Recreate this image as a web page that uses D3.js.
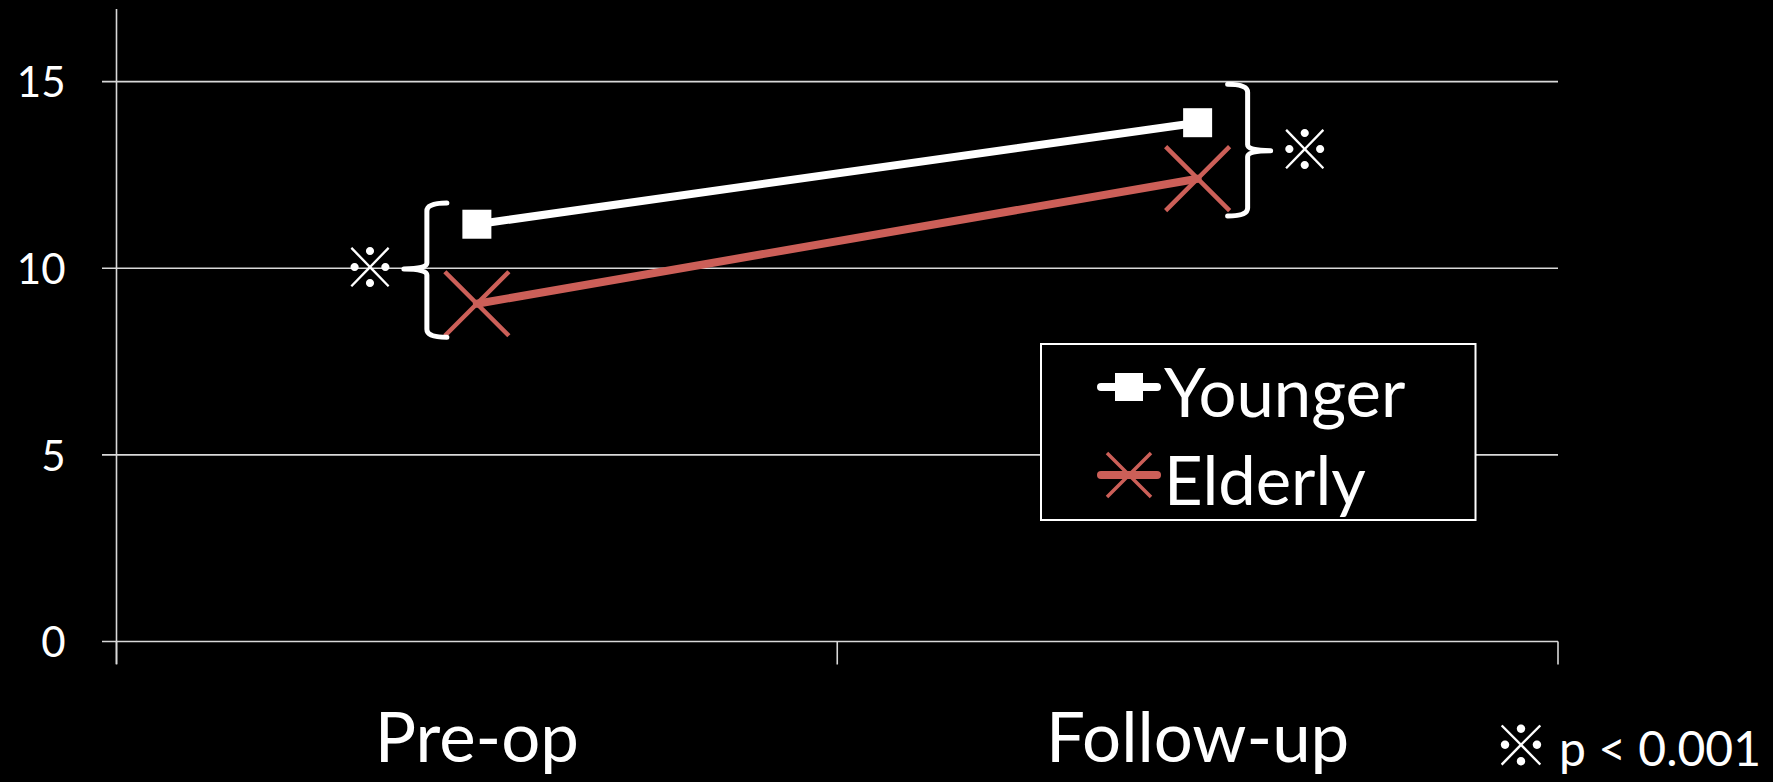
<!DOCTYPE html>
<html><head><meta charset="utf-8">
<script src="https://cdn.jsdelivr.net/npm/d3@7"></script>
<style>html,body{margin:0;padding:0;background:#000;}svg{display:block;}</style>
</head><body>
<svg id="chart" width="1773" height="782"></svg>
<script>
const categories = ["Pre-op", "Follow-up"];
const seriesNames = ["Younger", "Elderly"];
const younger = [11.18, 13.9];
const elderly = [9.05, 12.4];
const yTicks = [0, 5, 10, 15];
const footnote = "p < 0.001";
const sigMark = "※";
// significance brackets: category index, value span, side
const brackets = [
  {cat: 0, top: 11.75, bottom: 8.15, mid: 9.98, side: "left"},
  {cat: 1, top: 14.93, bottom: 11.4, mid: 13.15, side: "right"}
];

const W = 1773, H = 782;
const svg = d3.select("#chart");
svg.append("rect").attr("width", W).attr("height", H).attr("fill", "#000");

const font = "Lato, 'Open Sans', sans-serif";
const grid = "#d9d9d9";
const red = "#cc5f58";

const x = d3.scaleBand().domain(categories).range([116.5, 1558]).padding(0);
const y = d3.scaleLinear().domain([0, 17]).range([641.5, 7]);
const cx = c => x(c) + x.bandwidth() / 2;

// gridlines
svg.append("g").selectAll("line").data(yTicks).join("line")
  .attr("x1", 102).attr("x2", 1558)
  .attr("y1", d => y(d)).attr("y2", d => y(d))
  .attr("stroke", grid).attr("stroke-width", 1.6);

// y axis
const yAxis = d3.axisLeft(y).tickValues(yTicks).tickSize(0).tickPadding(0).tickFormat(d3.format("d"));
const gy = svg.append("g").attr("transform", "translate(116.5,0)").call(yAxis);
gy.select(".domain").remove();
gy.append("line").attr("x1", 0).attr("x2", 0).attr("y1", 9).attr("y2", 664)
  .attr("stroke", grid).attr("stroke-width", 1.6);
gy.selectAll(".tick text").attr("x", -51).attr("dy", "0.36em")
  .attr("fill", "#fff").attr("font-family", font).attr("font-size", 42).attr("text-anchor", "end");

// x axis
const gx = svg.append("g").attr("transform", `translate(0,${y(0)})`);
const tickPos = [...categories.map(c => x(c)), x.range()[1]];
gx.selectAll("line").data(tickPos).join("line")
  .attr("x1", d => d).attr("x2", d => d).attr("y1", 0).attr("y2", 23)
  .attr("stroke", grid).attr("stroke-width", 1.6);
const xAxis = d3.axisBottom(x).tickSize(0).tickPadding(0);
const gxa = svg.append("g").attr("transform", `translate(0,${y(0)})`).call(xAxis);
gxa.select(".domain").remove();
gxa.selectAll(".tick text").attr("y", 0).attr("dy", 0)
  .attr("transform", "translate(0,120)")
  .attr("fill", "#fff").attr("font-family", font).attr("font-size", 69).attr("text-anchor", "middle");

// lines
const line = d3.line().x((d, i) => cx(categories[i])).y(d => y(d));
svg.append("path").datum(elderly).attr("d", line).attr("fill", "none")
  .attr("stroke", red).attr("stroke-width", 8).attr("stroke-linecap", "round");
svg.append("path").datum(younger).attr("d", line).attr("fill", "none")
  .attr("stroke", "#fff").attr("stroke-width", 8).attr("stroke-linecap", "round");

// markers
const sq = 29;
svg.append("g").selectAll("rect").data(younger).join("rect")
  .attr("x", (d, i) => cx(categories[i]) - sq / 2).attr("y", d => y(d) - sq / 2)
  .attr("width", sq).attr("height", sq).attr("fill", "#fff");
const xs = 32;
const xg = svg.append("g");
elderly.forEach((d, i) => {
  const px = cx(categories[i]), py = y(d);
  xg.append("path").attr("d", `M${px - xs},${py - xs}L${px + xs},${py + xs}M${px - xs},${py + xs}L${px + xs},${py - xs}`)
    .attr("stroke", red).attr("stroke-width", 4.5).attr("fill", "none");
});

// brackets
brackets.forEach(b => {
  const yt = y(b.top), yb = y(b.bottom), ym = y(b.mid);
  const s = b.side === "left" ? -1 : 1;
  const vx = cx(categories[b.cat]) + s * 50;
  const h = 20 * -s, tip = 23 * s, r = 8;
  const d = `M${vx + h},${yt} Q${vx},${yt} ${vx},${yt + r} L${vx},${ym - 6} Q${vx},${ym} ${vx + tip},${ym} ` +
            `M${vx + tip},${ym} Q${vx},${ym} ${vx},${ym + 6} L${vx},${yb - r} Q${vx},${yb} ${vx + h},${yb}`;
  svg.append("path").attr("d", d).attr("fill", "none").attr("stroke", "#fff")
    .attr("stroke-width", 5).attr("stroke-linecap", "round");
  svg.append("text").attr("x", vx + s * 57).attr("y", ym).attr("dy", "0.36em")
    .attr("text-anchor", "middle").attr("fill", "#fff")
    .attr("font-family", "'Noto Sans CJK JP', sans-serif").attr("font-size", 54).text(sigMark);
});

// legend
const lg = svg.append("g");
lg.append("rect").attr("x", 1041).attr("y", 344).attr("width", 434.5).attr("height", 176)
  .attr("fill", "#000").attr("stroke", "#fff").attr("stroke-width", 2);
const legY = [387, 475];
const legColors = ["#fff", red];
seriesNames.forEach((n, i) => {
  lg.append("line").attr("x1", 1101).attr("x2", 1157).attr("y1", legY[i]).attr("y2", legY[i])
    .attr("stroke", legColors[i]).attr("stroke-width", 8).attr("stroke-linecap", "round");
  if (i === 0) {
    lg.append("rect").attr("x", 1129 - 14).attr("y", legY[i] - 14).attr("width", 28).attr("height", 28).attr("fill", "#fff");
  } else {
    const s2 = 22, px = 1129, py = legY[i];
    lg.append("path").attr("d", `M${px - s2},${py - s2}L${px + s2},${py + s2}M${px - s2},${py + s2}L${px + s2},${py - s2}`)
      .attr("stroke", red).attr("stroke-width", 3.5);
  }
  lg.append("text").attr("x", 1164).attr("y", legY[i] + 30).attr("fill", "#fff")
    .attr("font-family", font).attr("font-size", 67).text(n);
});

// footnote
const fn = svg.append("text").attr("x", 1493).attr("y", 766).attr("fill", "#fff");
fn.append("tspan").attr("font-family", "'Noto Sans CJK JP', sans-serif").attr("font-size", 56).text(sigMark);
fn.append("tspan").attr("font-family", font).attr("font-size", 48).attr("dx", 10).text(footnote);
</script>
</body></html>
